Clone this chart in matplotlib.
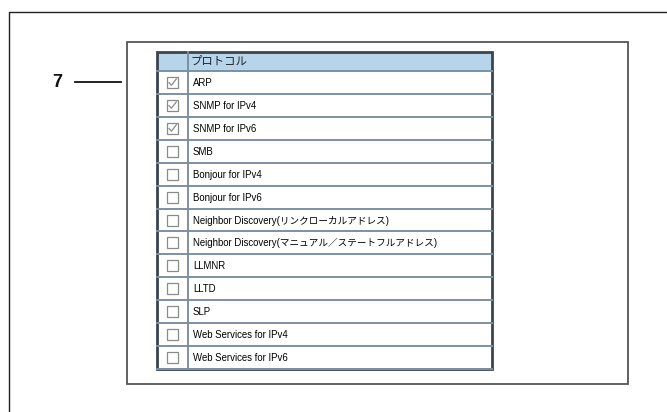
import matplotlib
matplotlib.use("Agg")
from matplotlib import pyplot as plt
from matplotlib.patches import Rectangle

plt.rcParams['font.family'] = ['Liberation Sans', 'Noto Sans CJK JP', 'DejaVu Sans']

header = 'プロトコル'
protocols = ['ARP', 'SNMP for IPv4', 'SNMP for IPv6', 'SMB', 'Bonjour for IPv4',
             'Bonjour for IPv6', 'Neighbor Discovery(リンクローカルアドレス)',
             'Neighbor Discovery(マニュアル／ステートフルアドレス)', 'LLMNR', 'LLTD',
             'SLP', 'Web Services for IPv4', 'Web Services for IPv6']
checked = [True, True, True, False, False, False, False, False, False, False,
           False, False, False]
callout = '7'

W, H = 667, 412
fig = plt.figure(figsize=(W / 100, H / 100), dpi=100)
ax = fig.add_axes([0, 0, 1, 1])
ax.set_xlim(0, W)
ax.set_ylim(H, 0)
ax.axis('off')

# outer frame (only left and top edges visible)
ax.plot([8.5, 8.5, W + 5], [H + 5, 11.5, 11.5], color='#222222', lw=1.0)
# inner box
ax.add_patch(Rectangle((127, 42), 501, 342, fill=False, ec='#555555', lw=1.3))

# table geometry
tx0, tx1 = 157, 492
ty0, ty1 = 52, 369
hdr_h = 19
row_h = (ty1 - ty0 - hdr_h) / len(protocols)
colx = 188

ax.add_patch(Rectangle((tx0, ty0), tx1 - tx0, hdr_h, fc='#b6d4ea', ec='none'))
ax.text(colx + 3, ty0 + hdr_h / 2, header, fontsize=8.2, va='center', ha='left',
        color='#222222')

line_c = '#7d8fa3'
for i in range(len(protocols) + 1):
    y = ty0 + hdr_h + i * row_h
    ax.plot([tx0, tx1], [y, y], color=line_c, lw=1.4)
ax.plot([colx, colx], [ty0, ty1], color=line_c, lw=1.4)

for i, (name, chk) in enumerate(zip(protocols, checked)):
    yc = ty0 + hdr_h + (i + 0.5) * row_h
    ax.text(colx + 5, yc + 0.5, name, fontsize=6.9, va='center', ha='left',
            color='#000000')
    bx = (tx0 + colx) / 2
    ax.add_patch(Rectangle((bx - 5.5, yc - 5.5), 11, 11, fc='white', ec='#8a8a8a', lw=0.9))
    if chk:
        ax.plot([bx - 3.5, bx - 1, bx + 3.8], [yc + 0.2, yc + 2.8, yc - 3.5],
                color='#8a8a8a', lw=0.9)

# table outer border
ax.add_patch(Rectangle((tx0, ty0), tx1 - tx0, ty1 - ty0, fill=False, ec='#3a4550', lw=2.0))

# callout
y7 = ty0 + hdr_h + 0.5 * row_h
ax.plot([75, 121], [y7, y7], color='#111111', lw=1.3)
ax.text(57, y7 + 0.5, callout, fontsize=13, fontweight='bold', ha='center', va='center',
        color='#111111')

fig.savefig('out.png', dpi=100)
